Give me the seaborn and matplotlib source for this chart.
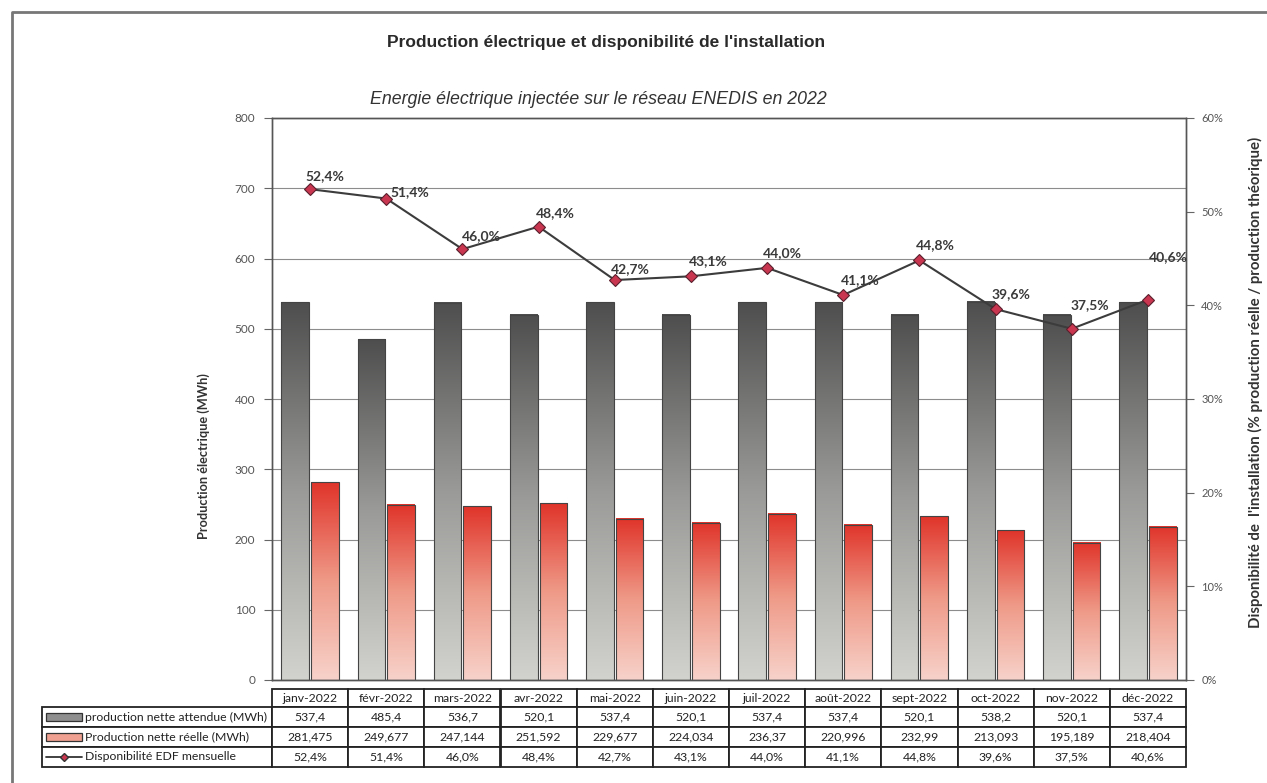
import numpy as np
import pandas as pd
import matplotlib
matplotlib.use("Agg")
import matplotlib.pyplot as plt
from matplotlib.colors import LinearSegmentedColormap
from matplotlib.patches import Rectangle
from matplotlib.lines import Line2D
from matplotlib.table import Table
from matplotlib.ticker import FuncFormatter, MultipleLocator
import seaborn as sns

# ---- data -------------------------------------------------------------
months = ["janv-2022", "févr-2022", "mars-2022", "avr-2022", "mai-2022", "juin-2022",
          "juil-2022", "août-2022", "sept-2022", "oct-2022", "nov-2022", "déc-2022"]
expected_mwh = [537.4, 485.4, 536.7, 520.1, 537.4, 520.1,
                537.4, 537.4, 520.1, 538.2, 520.1, 537.4]
actual_mwh = [281.475, 249.677, 247.144, 251.592, 229.677, 224.034,
              236.37, 220.996, 232.99, 213.093, 195.189, 218.404]
availability_pct = [52.4, 51.4, 46.0, 48.4, 42.7, 43.1,
                    44.0, 41.1, 44.8, 39.6, 37.5, 40.6]
series_names = ["production nette attendue (MWh)",
                "Production nette réelle (MWh)",
                "Disponibilité EDF mensuelle"]

title = "Production électrique et disponibilité de l'installation"
subtitle = "Energie électrique injectée sur le réseau ENEDIS en 2022"
left_label = "Production électrique (MWh)"
right_label = "Disponibilité de  l'installation (% production réelle / production théorique)"

# ---- style ------------------------------------------------------------
sns.set_style("white")
plt.rcParams["font.family"] = ["Lato", "DejaVu Sans"]

W, H = 1267, 783
fig = plt.figure(figsize=(W / 100, H / 100), dpi=100)
fig.patch.set_facecolor("white")


def fx(px):
    return px / W


def fy(py):
    return (H - py) / H


ax_l, ax_r, ax_t, ax_b = 272, 1186, 118, 680
ax = fig.add_axes([fx(ax_l), fy(ax_b), fx(ax_r - ax_l), (ax_b - ax_t) / H])

grey_mid = "#8e8e8e"
red_mid = "#ec8a78"
edge = "#444444"

df = pd.DataFrame({
    "mois": months * 2,
    "valeur": expected_mwh + actual_mwh,
    "serie": [series_names[0]] * len(months) + [series_names[1]] * len(months),
})
sns.barplot(data=df, x="mois", y="valeur", hue="serie", ax=ax,
            palette=[grey_mid, red_mid], width=0.78, gap=0.07,
            edgecolor=edge, linewidth=0.8, legend=False, zorder=2)

# vertical gradient fill for every bar
grey_cmap = LinearSegmentedColormap.from_list("g", ["#d2d2ce", "#9a9a98", "#4e4e4e"])
red_cmap = LinearSegmentedColormap.from_list("r", ["#f7d2ca", "#ef9a88", "#e0342a"])
grad = np.linspace(0, 1, 256)[:, None]
bars = [p for p in ax.patches if isinstance(p, Rectangle)]
for k, p in enumerate(bars):
    x0, y0, w, h = p.get_x(), p.get_y(), p.get_width(), p.get_height()
    if h <= 0:
        continue
    cmap = grey_cmap if k < len(months) else red_cmap
    ax.imshow(grad, extent=(x0, x0 + w, y0, y0 + h), origin="lower",
              cmap=cmap, aspect="auto", zorder=1.9, interpolation="bilinear")
    p.set_facecolor("none")

ax.set_xlim(-0.5, len(months) - 0.5)
ax.set_ylim(0, 800)
ax.yaxis.set_major_locator(MultipleLocator(100))
ax.set_xticks([])
ax.set_xlabel("")
ax.set_ylabel("")
ax.set_axisbelow(True)
ax.yaxis.grid(True, color="#8c8c8c", linewidth=0.8, zorder=0)
ax.xaxis.grid(False)
ax.tick_params(axis="y", direction="out", length=6, width=0.8, color="#666",
               labelsize=8.5, labelcolor="#555", pad=6, left=True)
for s in ax.spines.values():
    s.set_visible(True)
    s.set_color("#555")
    s.set_linewidth(1.0)

# ---- availability line on secondary axis -------------------------------
ax2 = ax.twinx()
xs = np.arange(len(months))
avail = np.array(availability_pct) / 100.0
sns.lineplot(x=xs, y=avail, ax=ax2, color="#3c3c3c", linewidth=1.5,
             marker="D", markersize=6, markerfacecolor="#c8374f",
             markeredgecolor="#5a1f2c", markeredgewidth=0.8, zorder=5)
ax2.set_ylim(0, 0.6)
ax2.yaxis.set_major_locator(MultipleLocator(0.1))
ax2.yaxis.set_major_formatter(FuncFormatter(lambda v, _: f"{int(round(v * 100))}%"))
ax2.tick_params(axis="y", direction="out", length=6, width=0.8, color="#666",
                labelsize=8, labelcolor="#555", pad=5, right=True)
ax2.set_ylabel("")
ax2.set_xlim(-0.5, len(months) - 0.5)
for s in ax2.spines.values():
    s.set_visible(True)
    s.set_color("#555")
    s.set_linewidth(1.0)

label_offsets = [(15, 13), (24, 6), (19, 13), (17, 14), (16, 11), (17, 15),
                 (15, 15), (17, 15), (16, 15), (15, 15), (18, 24), (20, 43)]
for i, v in enumerate(availability_pct):
    ax2.annotate(f"{v:.1f}%".replace(".", ","), (xs[i], avail[i]),
                 xytext=label_offsets[i], textcoords="offset pixels",
                 ha="center", va="center", fontsize=10, fontweight="bold",
                 color="#3a3a3a", zorder=6)

# ---- data table under the plot ----------------------------------------
tab_left, tab_top = 42, 689
row_h = [18, 20, 20, 20]
label_w = ax_l - tab_left
col_w = (ax_r - ax_l) / len(months)
tab_bottom = tab_top + sum(row_h)
bbox = [(tab_left - ax_l) / (ax_r - ax_l), (ax_b - tab_bottom) / (ax_b - ax_t),
        (ax_r - tab_left) / (ax_r - ax_l), (tab_bottom - tab_top) / (ax_b - ax_t)]
tbl = Table(ax, bbox=bbox)
fmt_num = lambda v: f"{v}".replace(".", ",")
fmt_pct = lambda v: f"{v:.1f}%".replace(".", ",")
rows = [
    [""] + months,
    [series_names[0]] + [fmt_num(v) for v in expected_mwh],
    [series_names[1]] + [fmt_num(v) for v in actual_mwh],
    [series_names[2]] + [fmt_pct(v) for v in availability_pct],
]
for r, row in enumerate(rows):
    for c, txt in enumerate(row):
        w = label_w if c == 0 else col_w
        cell = tbl.add_cell(r, c, width=w, height=row_h[r], text=txt,
                            loc="left" if c == 0 else "center",
                            facecolor="white", edgecolor="#222")
        cell.set_linewidth(1.3)
        cell.get_text().set_fontsize(8.8)
        cell.get_text().set_color("#222")
        if c == 0:
            cell.PAD = 43 / label_w
        if r == 0 and c == 0:
            cell.visible_edges = "open"
tbl.auto_set_font_size(False)
ax.add_table(tbl)

# legend keys inside the table's label column
row_cy = [tab_top + sum(row_h[:k]) + row_h[k] / 2 for k in range(len(row_h))]
fig.add_artist(Rectangle((fx(46), fy(row_cy[1] + 4)), fx(36), 8 / H,
                         transform=fig.transFigure, facecolor="#8e8e8e",
                         edgecolor="#333", linewidth=0.9))
fig.add_artist(Rectangle((fx(46), fy(row_cy[2] + 4)), fx(36), 8 / H,
                         transform=fig.transFigure, facecolor="#f0a090",
                         edgecolor="#333", linewidth=0.9))
fig.add_artist(Line2D([fx(46), fx(82)], [fy(row_cy[3]), fy(row_cy[3])],
                      transform=fig.transFigure, color="#333", linewidth=1.3))
fig.add_artist(Line2D([fx(64)], [fy(row_cy[3])], transform=fig.transFigure,
                      marker="D", markersize=4.5, markerfacecolor="#c8374f",
                      markeredgecolor="#333", linestyle="none"))

# ---- titles and axis labels -------------------------------------------
fig.text(fx(606), fy(42), title, ha="center", va="center", fontsize=12.5,
         fontweight="bold", color="#2a2a2a", family=["Liberation Sans", "DejaVu Sans"])
fig.text(fx(598), fy(100), subtitle, ha="center", va="center", fontsize=12.8,
         style="italic", color="#333", family=["Liberation Sans", "DejaVu Sans"])
fig.text(fx(204), fy(456), left_label, ha="center", va="center", rotation=90,
         fontsize=9.2, fontweight="bold", color="#333")
fig.text(fx(1255), fy(382), right_label, ha="center", va="center", rotation=90,
         fontsize=10.8, fontweight="bold", color="#333")

# page frame
fig.add_artist(Line2D([fx(12), fx(12), fx(W + 5)], [fy(H + 5), fy(12), fy(12)],
                      transform=fig.transFigure, color="#777", linewidth=2))

fig.savefig("out.png", dpi=100, facecolor="white")
